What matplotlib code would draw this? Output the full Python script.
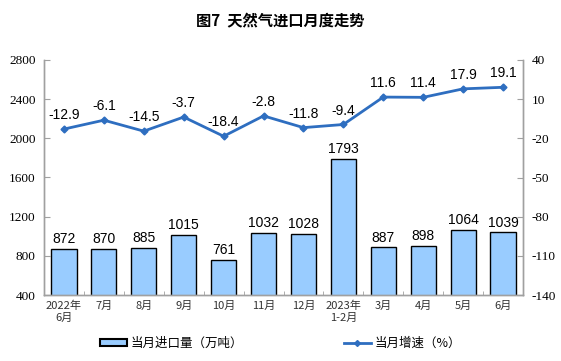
import matplotlib
matplotlib.use('Agg')
import matplotlib.pyplot as plt
import numpy as np

plt.rcParams['font.family'] = ['Noto Sans CJK SC', 'DejaVu Sans']

months = ['2022年\n6月', '7月', '8月', '9月', '10月', '11月', '12月',
          '2023年\n1-2月', '3月', '4月', '5月', '6月']
imports = [872, 870, 885, 1015, 761, 1032, 1028, 1793, 887, 898, 1064, 1039]
growth = [-12.9, -6.1, -14.5, -3.7, -18.4, -2.8, -11.8, -9.4, 11.6, 11.4, 17.9, 19.1]
left_ticks = [400, 800, 1200, 1600, 2000, 2400, 2800]
right_ticks = [-140, -110, -80, -50, -20, 10, 40]

bar_color = '#99CCFF'
line_color = '#2E6EC0'
grey = '#A0A0A0'
num_font = 'Liberation Serif'

fig = plt.figure(figsize=(5.61, 3.61), dpi=100)
ax = fig.add_axes([44/561, 1-295/361, (523-44)/561, (295-60)/361])
x = np.arange(len(months))

ax.bar(x, imports, width=0.63, color=bar_color, edgecolor='black', linewidth=1.0, zorder=2)
for xi, v in zip(x, imports):
    ax.annotate(str(v), (xi, v), xytext=(0, 2), textcoords='offset points',
                ha='center', va='bottom', fontsize=10, family='Liberation Sans')
ax.set_ylim(400, 2800)
ax.set_yticks(left_ticks)
ax.set_yticklabels([str(t) for t in left_ticks], fontfamily=num_font, fontsize=9.5)
ax.set_xlim(-0.5, len(months) - 0.5)
ax.set_xticks(x)
ax.set_xticklabels(months, fontsize=8, color='#333333')
ax.set_xticks(np.arange(-0.5, len(months), 1), minor=True)
ax.tick_params(axis='x', which='major', length=0, pad=4)
ax.tick_params(axis='x', which='minor', length=3, direction='in', color=grey)
ax.tick_params(axis='y', direction='in', length=4, color=grey, pad=6)

ax2 = ax.twinx()
ax2.plot(x, growth, color=line_color, linewidth=2, marker='D', markersize=3.5, zorder=3)
for xi, v in zip(x, growth):
    ax2.annotate('%.1f' % v, (xi, v), xytext=(0, 5), textcoords='offset points',
                 ha='center', va='bottom', fontsize=10, family='Liberation Sans')
ax2.set_ylim(-140, 40)
ax2.set_yticks(right_ticks)
ax2.set_yticklabels([str(t) for t in right_ticks], fontfamily=num_font, fontsize=9.5)
ax2.tick_params(axis='y', direction='in', length=4, color=grey, pad=6)

for a in (ax, ax2):
    a.spines['top'].set_visible(False)
    for s in ('left', 'right', 'bottom'):
        a.spines[s].set_color(grey)
        a.spines[s].set_linewidth(1.0)

fig.text(0.5, 1 - 20/361, '图7  天然气进口月度走势', ha='center', va='center',
         fontsize=11, fontweight='bold')

h1 = plt.Rectangle((0, 0), 1, 1, facecolor=bar_color, edgecolor='black', linewidth=1.5)
h2, = ax2.plot([], [], color=line_color, linewidth=2, marker='D', markersize=3)
fig.legend([h1, h2], ['当月进口量（万吨）', '当月增速（%）'], loc='center',
           bbox_to_anchor=(0.5, 1 - 343/361), ncol=2, frameon=False, fontsize=9,
           columnspacing=8, handlelength=2.2, handleheight=0.5, handletextpad=0.3)

fig.savefig('out.png', dpi=100)
